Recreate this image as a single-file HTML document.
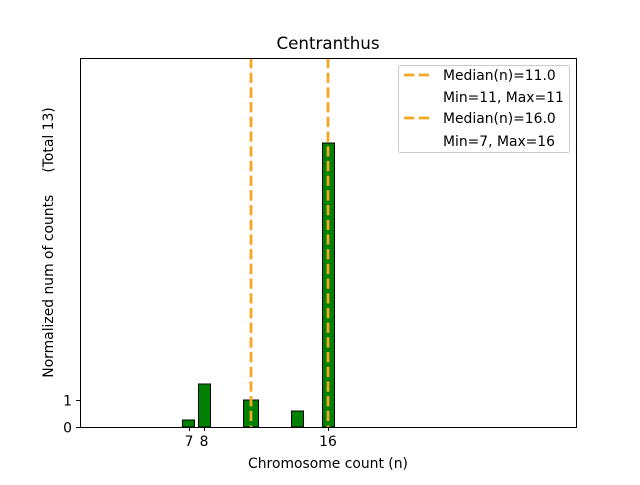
<!DOCTYPE html>
<html><head><style>body{margin:0;background:#fff}</style></head><body>
<svg width="640" height="480" xmlns="http://www.w3.org/2000/svg" font-family="'DejaVu Sans', 'Liberation Sans', sans-serif">
<rect width="640" height="480" fill="#fff"/>
<g fill="#008000" stroke="#000" stroke-width="1">
<rect x="182.5" y="420" width="12" height="7"/>
<rect x="198.5" y="384" width="12" height="43"/>
<rect x="243.5" y="400" width="15" height="27"/>
<rect x="291.5" y="411" width="12" height="16"/>
<rect x="322.5" y="143" width="12" height="284"/>
</g>
<g stroke="#f5a623" stroke-width="2.8" stroke-dasharray="10.3,4.4">
<line x1="251" y1="58" x2="251" y2="427"/>
<line x1="328" y1="58" x2="328" y2="427"/>
</g>
<rect x="80.5" y="58.5" width="496" height="369" fill="none" stroke="#000" stroke-width="1"/>
<g stroke="#000">
<line x1="76" y1="427.5" x2="80" y2="427.5"/>
<line x1="76" y1="400.5" x2="80" y2="400.5"/>
<line x1="189.5" y1="427" x2="189.5" y2="431"/>
<line x1="204.5" y1="427" x2="204.5" y2="431"/>
<line x1="328.5" y1="427" x2="328.5" y2="431"/>
</g>
<g font-size="13.9" fill="#000">
<text x="72" y="432.5" text-anchor="end">0</text>
<text x="72" y="405.5" text-anchor="end">1</text>
<text x="189" y="446" text-anchor="middle">7</text>
<text x="204" y="446" text-anchor="middle">8</text>
<text x="328" y="446" text-anchor="middle">16</text>
<text x="328" y="468" text-anchor="middle">Chromosome count (n)</text>
<text transform="translate(53,242.5) rotate(-90)" text-anchor="middle" xml:space="preserve">Normalized num of counts     (Total 13)</text>
<text x="328" y="49" text-anchor="middle" font-size="16.7">Centranthus</text>
</g>
<rect x="398.5" y="65.5" width="171" height="87" rx="2" fill="#fff" fill-opacity="0.8" stroke="#ccc"/>
<g stroke="#f5a623" stroke-width="2.8" stroke-dasharray="10.3,4.4">
<line x1="404" y1="75" x2="432" y2="75"/>
<line x1="404" y1="118" x2="432" y2="118"/>
</g>
<g font-size="13.9" fill="#000">
<text x="443" y="80">Median(n)=11.0</text>
<text x="443" y="102">Min=11, Max=11</text>
<text x="443" y="123">Median(n)=16.0</text>
<text x="443" y="146">Min=7, Max=16</text>
</g>
</svg>
</body></html>
